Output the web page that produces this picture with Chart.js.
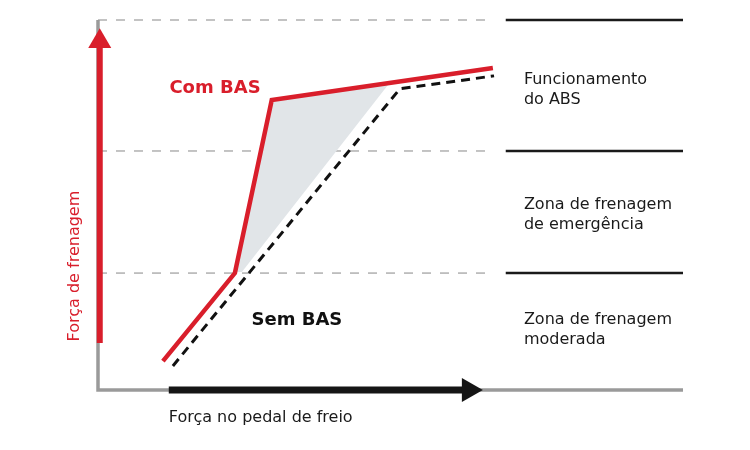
<!DOCTYPE html>
<html>
<head>
<meta charset="utf-8">
<script src="https://cdn.jsdelivr.net/npm/chart.js@4/dist/chart.umd.min.js"></script>
<style>
  html, body { margin: 0; padding: 0; background: #fff; }
  #wrap { width: 750px; height: 450px; }
</style>
</head>
<body>
<div id="wrap"><canvas id="chart"></canvas></div>
<script>
// zone boundaries (braking force, 0-100)
const zoneLevels = [31.6, 64.6, 100];
const zoneLabels = [
  ['Zona de frenagem', 'moderada'],
  ['Zona de frenagem', 'de emergência'],
  ['Funcionamento', 'do ABS']
];
const zoneLabelY = [16.3, 47.3, 81.0];

// curves: pedal force (x) vs braking force (y)
const comBasX = [11.1, 23.4, 29.7, 67.5];
const comBasY = [7.8, 31.6, 78.4, 87.0];
const semBasX = [12.8, 51.6, 67.7];
const semBasY = [6.5, 81.4, 84.9];

// shaded gain area
const gainX = [23.6, 29.9, 49.7, 24.6];
const gainY = [31.9, 78.1, 82.7, 31.9];

const RED = '#d91e2b';
const FONT = "'DejaVu Sans', sans-serif";

const pts = (xs, ys) => xs.map((x, i) => ({ x: x, y: ys[i] }));

const datasets = [];

// gridlines across the plot and solid marks on the right
zoneLevels.forEach(level => {
  datasets.push({
    data: [{ x: 0, y: level }, { x: 67.5, y: level }],
    borderColor: '#b0b0b0', borderWidth: 1.5, borderDash: [9, 9],
    pointRadius: 0, order: 9
  });
  datasets.push({
    data: [{ x: 69.7, y: level }, { x: 100, y: level }],
    borderColor: '#1a1a1a', borderWidth: 2.5,
    pointRadius: 0, order: 9
  });
});

// gray axes
datasets.push({
  data: [{ x: 0, y: 100 }, { x: 0, y: 0 }, { x: 100, y: 0 }],
  borderColor: '#9a9a9a', borderWidth: 3.5, pointRadius: 0, order: 8
});

// gain area
datasets.push({
  data: pts(gainX, gainY),
  borderWidth: 0, borderColor: 'rgba(0,0,0,0)',
  backgroundColor: '#e1e5e8', fill: 'shape', pointRadius: 0, order: 7
});

// Sem BAS (dashed)
datasets.push({
  data: pts(semBasX, semBasY),
  borderColor: '#111', borderWidth: 3, borderDash: [9, 6],
  pointRadius: 0, order: 6
});

// Com BAS
datasets.push({
  data: pts(comBasX, comBasY),
  borderColor: RED, borderWidth: 4.5, pointRadius: 0, order: 5
});

// red arrow on y axis
datasets.push({
  data: [{ x: 0.3, y: 12.7 }, { x: 0.3, y: 94.2 }],
  borderColor: RED, borderWidth: 6,
  pointRadius: [0, 13.3], pointStyle: 'triangle', pointRotation: 0,
  pointBackgroundColor: RED, pointBorderWidth: 0, order: 2
});

// black arrow on x axis
datasets.push({
  data: [{ x: 12.1, y: 0 }, { x: 63.4, y: 0 }],
  borderColor: '#151515', borderWidth: 7,
  pointRadius: [0, 14], pointStyle: 'triangle', pointRotation: 90,
  pointBackgroundColor: '#151515', pointBorderWidth: 0, order: 2
});

const labelsPlugin = {
  id: 'labels',
  afterDatasetsDraw(chart) {
    const { ctx, scales: { x, y } } = chart;
    ctx.save();
    ctx.textBaseline = 'middle';

    // zone texts
    ctx.fillStyle = '#1a1a1a';
    ctx.font = '16px ' + FONT;
    ctx.textAlign = 'left';
    zoneLabels.forEach((lines, i) => {
      const cy = y.getPixelForValue(zoneLabelY[i]);
      lines.forEach((t, j) => {
        ctx.fillText(t, x.getPixelForValue(72.8), cy + (j - 0.5) * 20);
      });
    });

    // curve names
    ctx.textAlign = 'center';
    ctx.font = 'bold 18px ' + FONT;
    ctx.fillStyle = RED;
    ctx.fillText('Com BAS', x.getPixelForValue(20.0), y.getPixelForValue(81.6));
    ctx.fillStyle = '#111';
    ctx.fillText('Sem BAS', x.getPixelForValue(34.0), y.getPixelForValue(18.9));

    // axis titles
    ctx.font = '16px ' + FONT;
    ctx.fillStyle = '#1a1a1a';
    ctx.textAlign = 'left';
    ctx.fillText('Força no pedal de freio', x.getPixelForValue(12.1), y.getPixelForValue(-7.6));

    ctx.translate(x.getPixelForValue(-3.9), y.getPixelForValue(33.5));
    ctx.rotate(-Math.PI / 2);
    ctx.textAlign = 'center';
    ctx.fillStyle = RED;
    ctx.fillText('Força de frenagem', 0, 0);
    ctx.restore();
  }
};

new Chart(document.getElementById('chart'), {
  type: 'scatter',
  data: { datasets: datasets.map(d => Object.assign({ showLine: true, clip: false, tension: 0 }, d)) },
  options: {
    responsive: true,
    maintainAspectRatio: false,
    animation: false,
    events: [],
    layout: { padding: { left: 98, right: 67, top: 20, bottom: 60 } },
    plugins: { legend: { display: false }, tooltip: { enabled: false } },
    scales: {
      x: { type: 'linear', min: 0, max: 100, display: false },
      y: { type: 'linear', min: 0, max: 100, display: false }
    }
  },
  plugins: [labelsPlugin]
});
</script>
</body>
</html>
